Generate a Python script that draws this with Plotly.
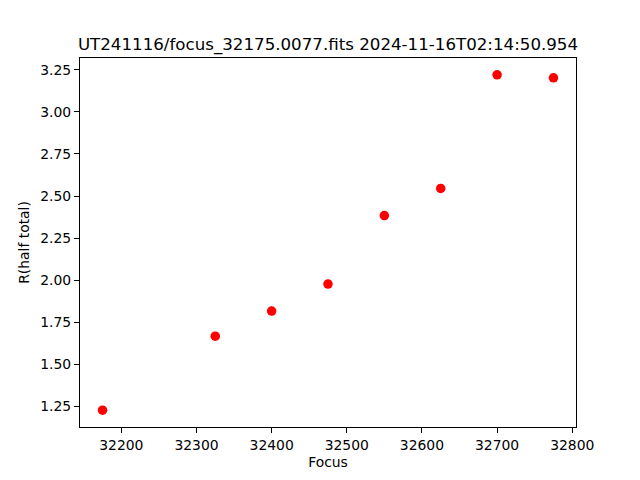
import plotly.graph_objects as go

focus = [32175, 32325, 32400, 32475, 32550, 32625, 32700, 32775]
r_half = [1.228, 1.668, 1.817, 1.977, 2.384, 2.545, 3.220, 3.202]
title = "UT241116/focus_32175.0077.fits 2024-11-16T02:14:50.954"

xmin, xmax = min(focus), max(focus)
ymin, ymax = min(r_half), max(r_half)
xm = 0.05 * (xmax - xmin)
ym = 0.05 * (ymax - ymin)

# page body has an 8px margin; offsets below compensate so the axes land where the reference has them
OFF = 8

fig = go.Figure(go.Scatter(
    x=focus, y=r_half, mode="markers",
    marker=dict(color="#ff0000", size=9.5, line=dict(width=0)),
))

axis_common = dict(
    showline=True, linecolor="black", linewidth=1, mirror=True,
    ticks="outside", ticklen=5, tickwidth=1, tickcolor="black",
    showgrid=False, zeroline=False,
    tickfont=dict(family="DejaVu Sans", size=13.9, color="black"),
)

fig.update_layout(
    width=640, height=480,
    margin=dict(l=80 - OFF, r=64 + OFF, t=58 - OFF, b=53 + OFF),
    paper_bgcolor="white", plot_bgcolor="white",
    showlegend=False,
    title=dict(text=title, x=(80 - OFF + 248) / 640, xanchor="center", xref="paper",
               y=1 - (44 - OFF) / 480, yanchor="middle",
               font=dict(family="DejaVu Sans", size=16.67, color="black")),
    xaxis=dict(range=[xmin - xm, xmax + xm], tick0=32200, dtick=100, tickformat="d",
               title=dict(text="Focus", standoff=5,
                          font=dict(family="DejaVu Sans", size=13.9, color="black")),
               **axis_common),
    yaxis=dict(range=[ymin - ym, ymax + ym], tick0=1.25, dtick=0.25, tickformat=".2f",
               title=dict(text="R(half total)", standoff=7,
                          font=dict(family="DejaVu Sans", size=13.9, color="black")),
               **axis_common),
)

fig.write_html("out.html")
